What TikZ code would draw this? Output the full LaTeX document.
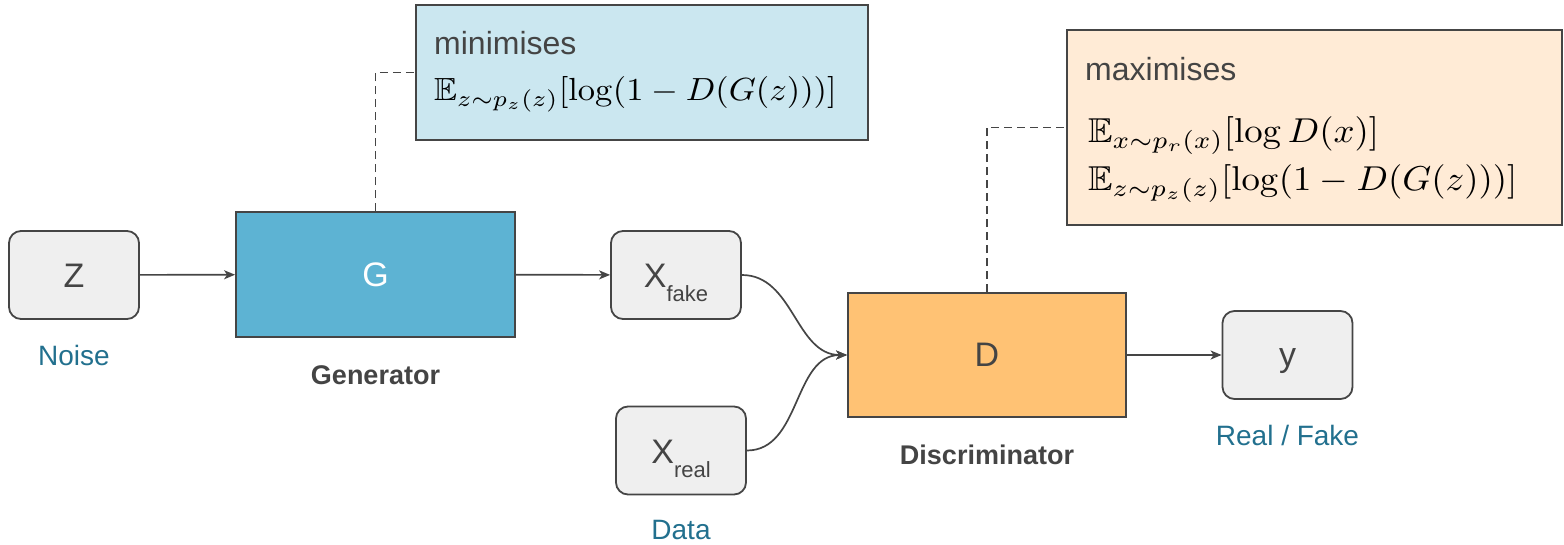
\documentclass[tikz,border=0pt]{standalone}
\usepackage{amssymb}
\usepackage{graphicx}
\usepackage[no-math]{fontspec}
\setmainfont{Liberation Sans}
\usetikzlibrary{arrows.meta}

\definecolor{edge}{HTML}{454545}
\definecolor{ink}{HTML}{444444}
\definecolor{capcol}{HTML}{22708E}
\definecolor{gfill}{HTML}{5DB3D3}
\definecolor{dfill}{HTML}{FFC274}
\definecolor{vfill}{HTML}{EFEFEF}
\definecolor{minfill}{HTML}{CBE7F0}
\definecolor{maxfill}{HTML}{FFEBD6}

\tikzset{
  var/.style={draw=edge, line width=1.8pt, rounded corners=12pt, fill=vfill,
    minimum width=130pt, minimum height=88pt, inner sep=0pt, text=ink,
    font=\fontsize{34}{40}\selectfont},
  net/.style={draw=edge, line width=1.8pt, inner sep=0pt,
    font=\fontsize{34}{40}\selectfont},
  caption/.style={text=capcol, font=\fontsize{28}{32}\selectfont},
  netname/.style={text=ink, font=\fontsize{27}{32}\selectfont\bfseries},
  objbox/.style={draw=edge, line width=1.8pt, inner sep=0pt},
  objtext/.style={anchor=base west, inner sep=0pt, text=ink,
    font=\fontsize{32}{38}\selectfont},
  formula/.style={anchor=base west, inner sep=0pt, text=black},
  link/.style={draw=edge, line width=1.7pt,
    -{Stealth[length=11pt,width=9pt,inset=3pt]}},
  dashlink/.style={draw=edge, line width=1.6pt, dash pattern=on 8pt off 5pt},
}
\newcommand{\subtag}[1]{\raisebox{-14pt}{\fontsize{22}{22}\selectfont #1}}

\begin{document}
\begin{tikzpicture}[x=1pt,y=-1pt]
  \useasboundingbox (0,0) rectangle (1564,544);

  % inputs and output
  \node[var, text height=25pt, text depth=0pt] (z) at (74,275) {Z};
  \node[var, text height=25pt, text depth=0pt] (xf) at (676,275)
    {X\subtag{fake}};
  \node[var, text height=25pt, text depth=0pt] (xr) at (681,450.5)
    {X\subtag{real}};
  \node[var, text height=22pt, text depth=0pt] (y) at (1287.5,355) {y};

  % networks
  \node[net, fill=gfill, text=white, minimum width=279pt, minimum height=125pt]
    (g) at (375.5,274.5) {G};
  \node[net, fill=dfill, text=ink, minimum width=278pt, minimum height=124pt]
    (d) at (987,355) {D};

  % captions
  \node[caption] (noise) at (74,355) {Noise};
  \node[caption] (data) at (681,530) {Data};
  \node[caption] (rf) at (1287.5,435) {Real / Fake};
  \node[netname] (gname) at (375.5,375) {Generator};
  \node[netname] (dname) at (987,455) {Discriminator};

  % objectives
  \node[objbox, fill=minfill, minimum width=452pt, minimum height=135pt]
    (minbox) at (642,72.5) {};
  \node[objtext] (mintxt) at (434,54) {minimises};
  \node[formula] (minf) at (434,100.5)
    {\scalebox{3.45}[3.2]{$\mathbb{E}_{z\sim p_z(z)}[\log(1-D(G(z)))]$}};

  \node[objbox, fill=maxfill, minimum width=495pt, minimum height=195pt]
    (maxbox) at (1314.5,127.5) {};
  \node[objtext] (maxtxt) at (1085,80) {maximises};
  \node[formula] (maxf1) at (1088,142)
    {\scalebox{3.68}[3.45]{$\mathbb{E}_{x\sim p_r(x)}[\log D(x)]$}};
  \node[formula] (maxf2) at (1088,190)
    {\scalebox{3.68}[3.45]{$\mathbb{E}_{z\sim p_z(z)}[\log(1-D(G(z)))]$}};

  % data flow
  \draw[link] (z) -- (g);
  \draw[link] (g) -- (xf);
  \draw[link] (xf.east) to[out=0, in=180] (d.west);
  \draw[link] (xr.east) to[out=0, in=180] (d.west);
  \draw[link] (d) -- (y);

  % objective leaders
  \draw[dashlink] (g.north) |- (minbox.west);
  \draw[dashlink] (d.north) |- (maxbox.west);
\end{tikzpicture}
\end{document}
